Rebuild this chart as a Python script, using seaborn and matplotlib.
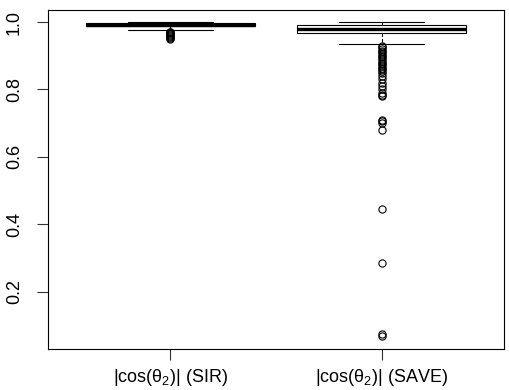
import numpy as np
import pandas as pd
import matplotlib
matplotlib.use("Agg")
import matplotlib.pyplot as plt
import seaborn as sns

# ---- data (values with frequency counts) ----
categories = [r"|cos($\mathrm{\theta}_2$)| (SIR)", r"|cos($\mathrm{\theta}_2$)| (SAVE)"]

sir_outliers = [0.951, 0.954, 0.957, 0.960, 0.963, 0.966, 0.968, 0.970, 0.972]
sir_core_values = [0.977, 0.982, 0.986, 0.988, 0.990, 0.992, 0.994, 0.996, 0.998, 1.000]
sir_core_counts = [1, 5, 20, 25, 20, 30, 20, 25, 15, 5]

save_outliers = [0.930, 0.925, 0.920, 0.915, 0.910, 0.905, 0.900, 0.895, 0.890,
                 0.885, 0.880, 0.875, 0.870, 0.865, 0.860, 0.855, 0.850, 0.840,
                 0.830, 0.820, 0.810, 0.800, 0.790, 0.785, 0.780, 0.710, 0.705,
                 0.700, 0.680, 0.445, 0.285, 0.075, 0.067]
save_core_values = [0.935, 0.945, 0.955, 0.962, 0.9675, 0.972, 0.979, 0.985, 0.992, 0.996, 1.000]
save_core_counts = [1, 2, 5, 10, 25, 25, 30, 30, 30, 20, 8]

y_ticks = [0.2, 0.4, 0.6, 0.8, 1.0]
y_tick_labels = ["0.2", "0.4", "0.6", "0.8", "1.0"]

# ---- build table ----
sir_vals = list(sir_outliers) + list(np.repeat(sir_core_values, sir_core_counts))
save_vals = list(save_outliers) + list(np.repeat(save_core_values, save_core_counts))
df = pd.DataFrame({
    "method": [categories[0]] * len(sir_vals) + [categories[1]] * len(save_vals),
    "value": sir_vals + save_vals,
})

sns.set_theme(style="white")
plt.rcParams["font.family"] = ["Liberation Sans", "DejaVu Sans"]
plt.rcParams["mathtext.fontset"] = "custom"
plt.rcParams["mathtext.rm"] = "Liberation Sans"
plt.rcParams["mathtext.it"] = "Liberation Sans:italic"
plt.rcParams["mathtext.bf"] = "Liberation Sans:bold"

fig = plt.figure(figsize=(5.09, 3.90), dpi=100)
ax = fig.add_axes([48 / 509, (390 - 349) / 390, (504 - 48) / 509, (349 - 9.5) / 390])

sns.boxplot(
    data=df, x="method", y="value", order=categories, ax=ax,
    color="white", linecolor="black", linewidth=0.8, width=0.8, whis=1.5,
    saturation=1,
    flierprops=dict(marker="o", markerfacecolor="none", markeredgecolor="black",
                    markersize=5.2, markeredgewidth=0.8),
    medianprops=dict(linewidth=2.4, color="black", solid_capstyle="butt"),
    whiskerprops=dict(linestyle=(0, (3, 2)), color="black", linewidth=0.8),
    capprops=dict(color="black", linewidth=0.8),
    boxprops=dict(edgecolor="black", linewidth=0.8),
)

ax.set_xlim(-0.58, 1.58)
ax.set_ylim(0.0297, 1.0373)
ax.set_yticks(y_ticks)
ax.set_yticklabels(y_tick_labels)
ax.set_xlabel("")
ax.set_ylabel("")

for sp in ax.spines.values():
    sp.set_visible(True)
    sp.set_color("black")
    sp.set_linewidth(0.8)

ax.tick_params(axis="both", which="both", direction="out", length=8, width=0.8,
               color="#333333", labelsize=13, labelcolor="black")
ax.tick_params(axis="y", pad=10, left=True)
ax.tick_params(axis="x", pad=5, bottom=True)
for lab in ax.get_yticklabels():
    lab.set_rotation(90)
    lab.set_va("center")
    lab.set_ha("right")

fig.savefig("out.png", dpi=100, facecolor="white")
